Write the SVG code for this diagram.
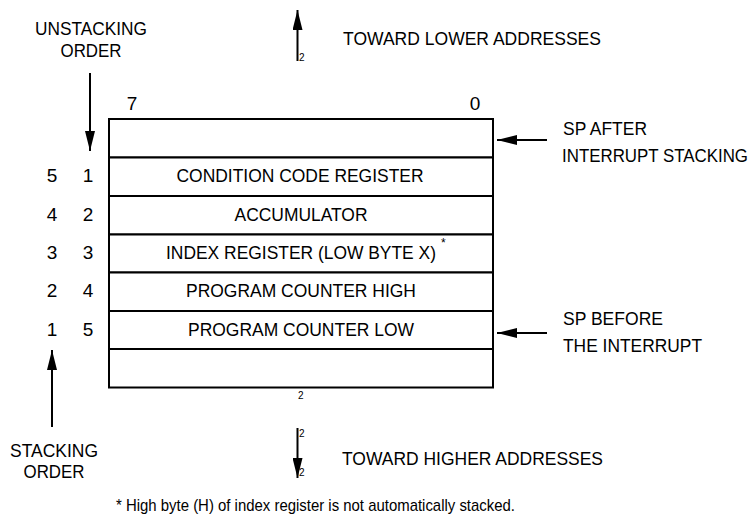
<svg xmlns="http://www.w3.org/2000/svg" width="756" height="518" viewBox="0 0 756 518">
<defs>
<marker id="ah" viewBox="0 0 20 10" refX="20" refY="5" markerWidth="20" markerHeight="10" markerUnits="userSpaceOnUse" orient="auto">
<path d="M0,0 L20,5 L0,10 z" fill="#000"/>
</marker>
<style>
text{font-family:"Liberation Sans",Arial,sans-serif;font-size:19px;fill:#000}
.c{text-anchor:middle}
.s{font-size:10px}
.row{fill:#fff;stroke:#000;stroke-width:2}
.arr{stroke:#000;stroke-width:2;fill:none;marker-end:url(#ah)}
</style>
</defs>
<rect width="756" height="518" fill="#fff"/>

<g id="labels">
<text class="c" x="91" y="35" textLength="112" lengthAdjust="spacingAndGlyphs">UNSTACKING</text>
<text class="c" x="91" y="57" textLength="61" lengthAdjust="spacingAndGlyphs">ORDER</text>
<text class="c" x="54" y="457" textLength="88" lengthAdjust="spacingAndGlyphs">STACKING</text>
<text class="c" x="54" y="478" textLength="61" lengthAdjust="spacingAndGlyphs">ORDER</text>
<text x="343" y="45" textLength="258" lengthAdjust="spacingAndGlyphs">TOWARD LOWER ADDRESSES</text>
<text x="342" y="465" textLength="261" lengthAdjust="spacingAndGlyphs">TOWARD HIGHER ADDRESSES</text>
<text class="c" x="132" y="110">7</text>
<text class="c" x="475" y="110">0</text>
<text x="563" y="135" textLength="84" lengthAdjust="spacingAndGlyphs">SP AFTER</text>
<text x="562" y="162" textLength="186" lengthAdjust="spacingAndGlyphs">INTERRUPT STACKING</text>
<text x="563" y="325" textLength="100" lengthAdjust="spacingAndGlyphs">SP BEFORE</text>
<text x="563" y="352" textLength="139" lengthAdjust="spacingAndGlyphs">THE INTERRUPT</text>
<text x="116" y="511" style="font-size:17px" textLength="399" lengthAdjust="spacingAndGlyphs">* High byte (H) of index register is not automatically stacked.</text>
<text class="s" x="299" y="61">2</text>
<text class="s" x="298" y="399">2</text>
<text class="s" x="299" y="437">2</text>
<text class="s" x="299" y="476">2</text>
</g>

<g id="order-numbers">
<text class="c" x="52" y="182">5</text><text class="c" x="88" y="182">1</text>
<text class="c" x="52" y="221">4</text><text class="c" x="88" y="221">2</text>
<text class="c" x="52" y="259">3</text><text class="c" x="88" y="259">3</text>
<text class="c" x="52" y="297">2</text><text class="c" x="88" y="297">4</text>
<text class="c" x="52" y="336">1</text><text class="c" x="88" y="336">5</text>
</g>

<g id="row-top-empty"><rect class="row" x="109" y="119" width="384" height="38.5"/></g>
<g id="row-ccr"><rect class="row" x="109" y="157.5" width="384" height="38.5"/><text class="c" x="300" y="182" textLength="247" lengthAdjust="spacingAndGlyphs">CONDITION CODE REGISTER</text></g>
<g id="row-acc"><rect class="row" x="109" y="196" width="384" height="38.5"/><text class="c" x="301" y="221" textLength="133" lengthAdjust="spacingAndGlyphs">ACCUMULATOR</text></g>
<g id="row-x"><rect class="row" x="109" y="234.5" width="384" height="38"/><text x="166" y="259" textLength="270" lengthAdjust="spacingAndGlyphs">INDEX REGISTER (LOW BYTE X)</text><text x="441" y="247" style="font-size:12px">*</text></g>
<g id="row-pch"><rect class="row" x="109" y="272.5" width="384" height="38.5"/><text class="c" x="301" y="297" textLength="230" lengthAdjust="spacingAndGlyphs">PROGRAM COUNTER HIGH</text></g>
<g id="row-pcl"><rect class="row" x="109" y="311" width="384" height="38"/><text class="c" x="301" y="336" textLength="226" lengthAdjust="spacingAndGlyphs">PROGRAM COUNTER LOW</text></g>
<g id="row-bottom-empty"><rect class="row" x="109" y="349" width="384" height="38.5"/></g>

<g id="connectors">
<line class="arr" x1="90" y1="73" x2="90" y2="151"/>
<line class="arr" x1="52" y1="427" x2="52" y2="350"/>
<line class="arr" x1="297.5" y1="61" x2="297.5" y2="10"/>
<line class="arr" x1="297.5" y1="428" x2="297.5" y2="478"/>
<line class="arr" x1="547" y1="140" x2="497" y2="140"/>
<line class="arr" x1="547" y1="333" x2="497" y2="333"/>
</g>
</svg>
